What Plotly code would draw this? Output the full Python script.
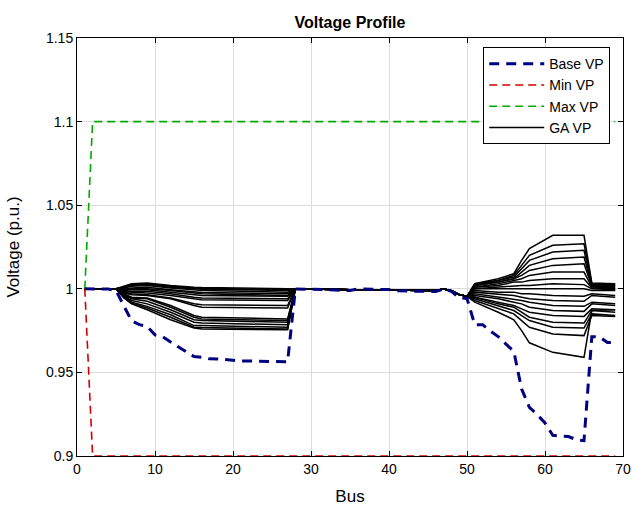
import plotly.graph_objects as go

# ---------------- data ----------------
BUS = list(range(1, 70))

BASE_VP = [1.0, 0.99997, 0.99993, 0.99984, 0.99902, 0.99009, 0.98079, 0.97858, 0.97745, 0.97245,
           0.97135, 0.96819, 0.96526, 0.96236, 0.95950, 0.95897, 0.95809, 0.95808, 0.95761, 0.95732,
           0.95683, 0.95683, 0.95676, 0.95660, 0.95643, 0.95636, 0.95634, 0.99993, 0.99985, 0.99973,
           0.99971, 0.99961, 0.99935, 0.99901, 0.99895, 0.99992, 0.99975, 0.99959, 0.99954, 0.99954,
           0.99884, 0.99855, 0.99851, 0.99850, 0.99841, 0.99840, 0.99979, 0.99853, 0.99469, 0.99415,
           0.97853, 0.97853, 0.97466, 0.97141, 0.96694, 0.96256, 0.94010, 0.92904, 0.92476, 0.91974,
           0.91234, 0.91205, 0.91167, 0.90977, 0.90919, 0.97129, 0.97129, 0.96786, 0.96786]

MIN_VP = [1.0] + [0.9] * 68
MAX_VP = [1.0] + [1.1] * 68

# GA voltage profiles, read at key buses
GA_BUS_LEFT = [1, 5, 6, 7, 9, 12, 15, 16, 27]
GA_LEFT = [
    [1.0, 1.0, 1.0015, 1.003, 1.0035, 1.002, 1.001, 1.0008, 1.000],
    [1.0, 1.0, 1.001, 1.0025, 1.003, 1.0015, 1.0005, 1.0003, 0.9995],
    [1.0, 1.0, 1.001, 1.002, 1.0025, 1.001, 1.000, 0.9998, 0.999],
    [1.0, 1.0, 1.0005, 1.0015, 1.002, 1.0005, 0.9995, 0.999, 0.998],
    [1.0, 1.0, 1.0, 1.0005, 1.001, 0.9995, 0.998, 0.9978, 0.997],
    [1.0, 1.0, 1.0, 1.0, 1.0, 0.999, 0.9975, 0.997, 0.996],
    [1.0, 1.0, 0.9995, 0.9995, 0.9995, 0.998, 0.9965, 0.996, 0.9955],
    [1.0, 1.0, 0.999, 0.9985, 0.9985, 0.997, 0.995, 0.9945, 0.994],
    [1.0, 1.0, 0.9985, 0.998, 0.9975, 0.996, 0.994, 0.9935, 0.993],
    [1.0, 1.0, 0.998, 0.997, 0.9965, 0.9945, 0.991, 0.9905, 0.990],
    [1.0, 1.0, 0.9975, 0.9965, 0.996, 0.994, 0.990, 0.989, 0.9885],
    [1.0, 1.0, 0.997, 0.995, 0.9945, 0.990, 0.984, 0.983, 0.982],
    [1.0, 1.0, 0.9965, 0.9945, 0.994, 0.989, 0.983, 0.982, 0.981],
    [1.0, 1.0, 0.996, 0.994, 0.9925, 0.9875, 0.9815, 0.981, 0.980],
    [1.0, 1.0, 0.9955, 0.993, 0.991, 0.986, 0.980, 0.9795, 0.9785],
    [1.0, 1.0, 0.995, 0.992, 0.9895, 0.9845, 0.978, 0.978, 0.977],
    [1.0, 1.0, 0.995, 0.9915, 0.9885, 0.983, 0.977, 0.9768, 0.976],
    [1.0, 1.0, 0.9945, 0.991, 0.9875, 0.9815, 0.9765, 0.976, 0.9755],
]

GA_BUS_MID = [28, 35, 41, 46, 47, 48, 49, 50]
GA_MID = [1.0, 0.9995, 0.9992, 0.9990, 0.9998, 0.9988, 0.9965, 0.9955]

GA_BUS_RIGHT = [51, 54, 56, 57, 58, 61, 65, 66, 69]
GA_RIGHT = [
    [1.003, 1.006, 1.009, 1.017, 1.024, 1.032, 1.032, 1.0035, 1.003],
    [1.003, 1.005, 1.008, 1.014, 1.020, 1.026, 1.027, 1.003, 1.0025],
    [1.002, 1.005, 1.007, 1.012, 1.017, 1.022, 1.023, 1.0025, 1.002],
    [1.002, 1.004, 1.006, 1.010, 1.014, 1.018, 1.019, 1.002, 1.0015],
    [1.002, 1.004, 1.006, 1.008, 1.011, 1.014, 1.015, 1.0015, 1.001],
    [1.001, 1.003, 1.005, 1.006, 1.008, 1.010, 1.010, 1.001, 1.0005],
    [1.001, 1.002, 1.004, 1.004, 1.005, 1.006, 1.006, 1.0005, 1.0],
    [1.000, 1.001, 1.002, 1.002, 1.002, 1.003, 1.0025, 1.0, 0.9995],
    [1.000, 1.000, 1.000, 1.000, 1.000, 1.000, 1.000, 0.999, 0.999],
    [0.999, 0.998, 0.998, 0.997, 0.997, 0.996, 0.9955, 0.997, 0.996],
    [0.998, 0.997, 0.996, 0.995, 0.994, 0.993, 0.9925, 0.996, 0.995],
    [0.997, 0.995, 0.994, 0.993, 0.992, 0.990, 0.9895, 0.992, 0.991],
    [0.996, 0.994, 0.992, 0.991, 0.989, 0.987, 0.9865, 0.991, 0.990],
    [0.995, 0.992, 0.990, 0.988, 0.986, 0.984, 0.9835, 0.988, 0.9875],
    [0.995, 0.991, 0.989, 0.986, 0.983, 0.980, 0.9795, 0.987, 0.986],
    [0.994, 0.990, 0.987, 0.984, 0.981, 0.977, 0.9765, 0.985, 0.984],
    [0.993, 0.988, 0.985, 0.981, 0.977, 0.973, 0.972, 0.984, 0.9835],
    [0.992, 0.986, 0.9815, 0.975, 0.9677, 0.962, 0.959, 0.987, 0.9875],
]

X_TICKS = [0, 10, 20, 30, 40, 50, 60, 70]
Y_TICKS = [0.9, 0.95, 1.0, 1.05, 1.1, 1.15]
Y_TICK_LABELS = ["0.9", "0.95", "1", "1.05", "1.1", "1.15"]

# ---------------- figure ----------------
FONT = "Liberation Sans, Arial, Helvetica, sans-serif"
fig = go.Figure()

ga_x = GA_BUS_LEFT + GA_BUS_MID + GA_BUS_RIGHT
for i, (left, right) in enumerate(zip(GA_LEFT, GA_RIGHT)):
    fig.add_trace(go.Scatter(
        x=ga_x, y=left + GA_MID + right, mode="lines",
        line=dict(color="black", width=1.5),
        name="GA VP", legendgroup="ga", showlegend=(i == 0), legendrank=4))

fig.add_trace(go.Scatter(x=BUS, y=MIN_VP, mode="lines", name="Min VP",
                         line=dict(color="#d40000", width=1.6, dash="8px,5px"), legendrank=2))
fig.add_trace(go.Scatter(x=BUS, y=MAX_VP, mode="lines", name="Max VP",
                         line=dict(color="#00a800", width=1.6, dash="8px,5px"), legendrank=3))
fig.add_trace(go.Scatter(x=BUS, y=BASE_VP, mode="lines", name="Base VP",
                         line=dict(color="#000080", width=3, dash="10px,7px"), legendrank=1))

axis_common = dict(showline=True, linecolor="black", linewidth=1, mirror="ticks",
                   ticks="inside", ticklen=5, tickcolor="black", automargin=False,
                   showgrid=True, gridcolor="#dcdcdc", gridwidth=1, zeroline=False,
                   tickfont=dict(family=FONT, size=14, color="black"))

fig.update_layout(
    width=635, height=506,
    margin=dict(l=77, r=12, t=38, b=50),
    paper_bgcolor="white", plot_bgcolor="white",
    font=dict(family=FONT, size=14, color="black"),
    title=dict(text="<b>Voltage Profile</b>", x=(77 + 623) / 2 / 635, xanchor="center",
               y=1 - 22 / 506, yanchor="middle", font=dict(family=FONT, size=16, color="black")),
    xaxis=dict(range=[0, 70], tickvals=X_TICKS,
               title=dict(text="Bus", font=dict(family=FONT, size=17), standoff=14), **axis_common),
    yaxis=dict(range=[0.9, 1.15], tickvals=Y_TICKS, ticktext=Y_TICK_LABELS,
               title=dict(text="Voltage (p.u.)", font=dict(family=FONT, size=17), standoff=22), **axis_common),
    legend=dict(x=0.744, y=0.978, xanchor="left", yanchor="top",
                bgcolor="white", bordercolor="black", borderwidth=1,
                font=dict(family=FONT, size=14), tracegroupgap=0, itemwidth=55),
    showlegend=True,
)

fig.write_html("out.html")
